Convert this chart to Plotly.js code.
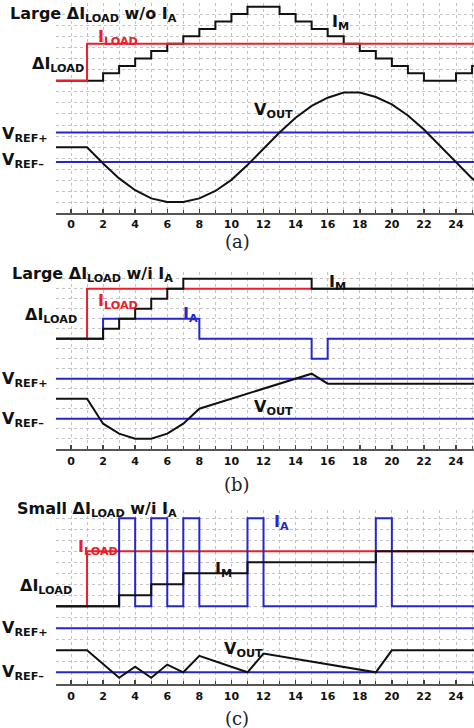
<!DOCTYPE html>
<html>
<head>
<meta charset="utf-8">
<script src="https://cdn.plot.ly/plotly-3.0.1.min.js"></script>
<style>html,body{margin:0;padding:0;background:#fff;}#chart{width:474px;height:728px;}</style>
</head>
<body>
<div id="chart"></div>
<script>
// ---------- Data (time axis in µs-like units, levels in divisions) ----------
// Panel (a): Large ΔI_LOAD without I_A
const aLoadX = [-1, 1, 25.5];
const aLoadY = [0, 5, 5];
const aImX = [-1, 2, 3, 4, 5, 6, 7, 8, 9, 10, 11, 13, 14, 15, 16, 17, 18, 19, 20, 21, 22, 24, 25, 25.5];
const aImY = [0, 1, 2, 3, 4, 5, 6, 7, 8, 9, 10, 9, 8, 7, 6, 5, 4, 3, 2, 1, 0, 1, 2, 2];
const aVoutX = [-1, 0, 1, 2, 3, 4, 5, 6, 7, 8, 9, 10, 11, 12, 13, 14, 15, 16, 17, 18, 19, 20, 21, 22, 23, 24, 25, 25.5];
const aVoutY = [-9, -9, -9, -11.2, -13.2, -14.8, -15.9, -16.4, -16.4, -15.9, -14.9, -13.4, -11.4, -9.2, -7.0, -5.0, -3.4, -2.3, -1.6, -1.6, -2.2, -3.2, -4.7, -6.6, -8.8, -11.1, -13.2, -14.0];
const aVrefHi = -7, aVrefLo = -11;

// Panel (b): Large ΔI_LOAD with I_A
const bLoadX = [-1, 1, 25.5];
const bLoadY = [0, 5, 5];
const bImX = [-1, 2, 3, 4, 5, 6, 7, 15, 25.5];
const bImY = [0, 1, 2, 3, 4, 5, 6, 5, 5];
const bIaX = [-1, 2, 8, 15, 16, 25.5];
const bIaY = [0, 2, 0, -2, 0, 0];
const bVoutX = [-1, 1, 2, 3, 4, 5, 6, 7, 8, 15, 16, 25.5];
const bVoutY = [-6, -6, -8.5, -9.5, -10, -10, -9.5, -8.5, -7, -3.5, -4.5, -4.5];
const bVrefHi = -4, bVrefLo = -8;

// Panel (c): Small ΔI_LOAD with I_A
const cLoadX = [-1, 1, 25.5];
const cLoadY = [0, 5, 5];
const cImX = [-1, 3, 5, 7, 11, 19, 25.5];
const cImY = [0, 1, 2, 3, 4, 5, 5];
const cIaX = [-1, 3, 4, 5, 6, 7, 8, 11, 12, 19, 20, 25.5];
const cIaY = [0, 8, 0, 8, 0, 8, 0, 8, 0, 8, 0, 0];
const cVoutX = [-1, 1, 3, 4, 5, 6, 7, 8, 11, 12, 19, 20, 25.5];
const cVoutY = [-4, -4, -6.5, -5.5, -6.5, -5.3, -6, -4.5, -6, -4.3, -6, -4, -4];
const cVrefHi = -2, cVrefLo = -6;

const xSpan = [-1, 25.5];

// ---------- Styles ----------
const BLACK = '#111111', RED = '#e8202a', BLUE = '#2626cc';
const LW = 2;

function step(x, y, color, xa, ya) {
  return {x: x, y: y, mode: 'lines', line: {shape: 'hv', color: color, width: LW}, xaxis: xa, yaxis: ya, hoverinfo: 'skip'};
}
function lin(x, y, color, xa, ya) {
  return {x: x, y: y, mode: 'lines', line: {color: color, width: LW}, xaxis: xa, yaxis: ya, hoverinfo: 'skip'};
}
function hline(v, xa, ya) {
  return lin(xSpan, [v, v], BLUE, xa, ya);
}

const traces = [
  // (a)
  hline(aVrefHi, 'x', 'y'), hline(aVrefLo, 'x', 'y'),
  step(aImX, aImY, BLACK, 'x', 'y'),
  step(aLoadX, aLoadY, RED, 'x', 'y'),
  lin(aVoutX, aVoutY, BLACK, 'x', 'y'),
  // (b)
  hline(bVrefHi, 'x2', 'y2'), hline(bVrefLo, 'x2', 'y2'),
  step(bIaX, bIaY, BLUE, 'x2', 'y2'),
  step(bLoadX, bLoadY, RED, 'x2', 'y2'),
  step(bImX, bImY, BLACK, 'x2', 'y2'),
  lin(bVoutX, bVoutY, BLACK, 'x2', 'y2'),
  // (c)
  hline(cVrefHi, 'x3', 'y3'), hline(cVrefLo, 'x3', 'y3'),
  step(cLoadX, cLoadY, RED, 'x3', 'y3'),
  step(cIaX, cIaY, BLUE, 'x3', 'y3'),
  step(cImX, cImY, BLACK, 'x3', 'y3'),
  lin(cVoutX, cVoutY, BLACK, 'x3', 'y3')
];

// ---------- Layout ----------
const W = 474, H = 728, L = 56;
const GRID = '#c4c4c4';
function px2x(p) { return (p - L) / (W - L); }
function px2y(p) { return 1 - p / H; }

function xax(anchor) {
  return {
    anchor: anchor, domain: [0, 1], range: [-0.935, 25.12],
    showgrid: true, gridcolor: GRID, griddash: 'dot', gridwidth: 1,
    tick0: 0, dtick: 2, ticks: 'inside', ticklen: 4, tickwidth: 1.5, tickcolor: '#444',
    showline: true, linecolor: '#555', linewidth: 2, zeroline: false,
    tickfont: {family: 'DejaVu Sans', size: 11, color: '#111', weight: 'bold'},
    minor: {dtick: 1, tick0: 0, ticks: 'inside', ticklen: 3, tickwidth: 1, tickcolor: '#444',
            showgrid: true, gridcolor: GRID, griddash: 'dot', gridwidth: 1},
    fixedrange: true
  };
}
function yax(top, bottom, r, dt) {
  return {
    domain: [px2y(bottom), px2y(top)], range: r,
    showgrid: true, gridcolor: GRID, griddash: 'dot', gridwidth: 1,
    tick0: 0, dtick: dt, showticklabels: false, ticks: '', zeroline: false, showline: false,
    fixedrange: true
  };
}

const LBL = {family: 'DejaVu Sans', size: 16, color: '#111', weight: 'bold'};
function ann(text, xp, yp, color, xanchor) {
  return {text: text, x: px2x(xp), y: px2y(yp), xref: 'paper', yref: 'paper',
          xanchor: xanchor || 'left', yanchor: 'middle', showarrow: false,
          font: Object.assign({}, LBL, {color: color || '#111'})};
}
function cap(text, yp) {
  return {text: text, x: px2x(237), y: px2y(yp), xref: 'paper', yref: 'paper',
          xanchor: 'center', yanchor: 'middle', showarrow: false,
          font: {family: 'DejaVu Serif', size: 18, color: '#222'}};
}

const annotations = [
  // (a)
  ann('Large ΔI<sub>LOAD</sub> w/o I<sub>A</sub>', 8, 14),
  ann('ΔI<sub>LOAD</sub>', 86, 64, '#111', 'right'),
  ann('I<sub>LOAD</sub>', 96, 37, RED),
  ann('I<sub>M</sub>', 330, 22),
  ann('V<sub>OUT</sub>', 252, 110),
  ann('V<sub>REF+</sub>', 0, 134),
  ann('V<sub>REF–</sub>', 0, 160),
  cap('(a)', 242),
  // (b)
  ann('Large ΔI<sub>LOAD</sub> w/i I<sub>A</sub>', 10, 274),
  ann('I<sub>M</sub>', 327, 283),
  ann('I<sub>LOAD</sub>', 96, 301, RED),
  ann('I<sub>A</sub>', 181, 314, BLUE),
  ann('ΔI<sub>LOAD</sub>', 79, 315, '#111', 'right'),
  ann('V<sub>REF+</sub>', 0, 379),
  ann('V<sub>OUT</sub>', 252, 407),
  ann('V<sub>REF–</sub>', 0, 420),
  cap('(b)', 484),
  // (c)
  ann('Small ΔI<sub>LOAD</sub> w/i I<sub>A</sub>', 15, 510),
  ann('I<sub>A</sub>', 272, 522, BLUE),
  ann('I<sub>LOAD</sub>', 76, 547, RED),
  ann('I<sub>M</sub>', 213, 569),
  ann('ΔI<sub>LOAD</sub>', 74, 586, '#111', 'right'),
  ann('V<sub>REF+</sub>', 0, 628),
  ann('V<sub>OUT</sub>', 222, 649),
  ann('V<sub>REF–</sub>', 0, 672),
  cap('(c)', 718)
];

const layout = {
  width: W, height: H,
  margin: {l: L, r: 0, t: 0, b: 0, pad: 0},
  paper_bgcolor: '#ffffff', plot_bgcolor: '#ffffff',
  showlegend: false,
  xaxis: xax('y'),
  xaxis2: xax('y2'),
  xaxis3: xax('y3'),
  yaxis: yax(3, 213, [-17.88, 10.5], 1.5),
  yaxis2: yax(272, 449.3, [-11.06, 6.67], 1),
  yaxis3: yax(510, 684.3, [-7.09, 8.75], 1),
  annotations: annotations
};

Plotly.newPlot('chart', traces, layout, {displayModeBar: false, staticPlot: true});
</script>
</body>
</html>
